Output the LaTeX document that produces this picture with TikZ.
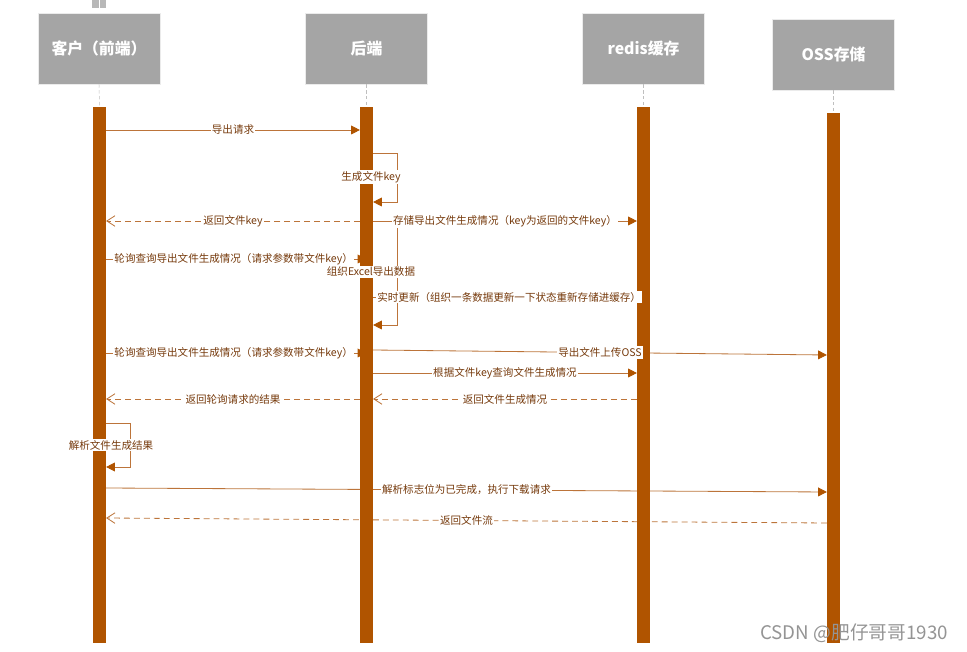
\documentclass[tikz,border=0pt]{standalone}
\usepackage{fontspec}
\usepackage{tikz}
\usetikzlibrary{positioning,arrows.meta,backgrounds}
\newfontfamily\cjk{Noto Sans CJK SC}
\definecolor{barbrown}{RGB}{176,84,0}
\definecolor{wirebrown}{RGB}{188,116,58}
\definecolor{labelbrown}{RGB}{118,58,12}
\definecolor{headgrey}{RGB}{165,165,165}

\begin{document}
\begin{tikzpicture}[x=0.03cm,y=-0.03cm,
  head/.style={rectangle,draw=black!8,fill=headgrey,minimum width=3.66cm,
    minimum height=2.13cm,text=white,font=\cjk\bfseries\fontsize{13.5}{16}\selectfont},
  actbar/.style={rectangle,fill=barbrown,minimum width=0.38cm,inner sep=0pt},
  lifeline/.style={draw=black!25,dash pattern=on 3pt off 2pt},
  msg/.style={wirebrown,line width=0.7pt,-{Triangle[length=7.5pt,width=7.5pt,color=barbrown]}},
  reply/.style={wirebrown,line width=0.7pt,dash pattern=on 5pt off 3.5pt,
    -{Straight Barb[length=7pt,width=9pt]}},
  wire/.style={wirebrown,line width=0.7pt},
  lbl/.style={fill=white,inner sep=1pt,text=labelbrown,font=\cjk\fontsize{9}{10}\selectfont}]
\useasboundingbox (0,0) rectangle (967,652);
% Participants
\fill[black!28] (92,0) rectangle (98.5,8);
\fill[black!28] (99.5,0) rectangle (106,8);
\node[head] (cli) at (99,48.5) {客户（前端）};
\node[head] (be) at (366.5,48.5) {后端};
\node[head] (rd) at (643.5,48.5) {redis缓存};
\node[head] (oss) at (833.5,54.5) {OSS存储};
% Activation bars
\node[actbar,minimum height=16.08cm] (clibar) at (99.5,375) {};
\node[actbar,minimum height=16.08cm] (bebar) at (366.5,375) {};
\node[actbar,minimum height=16.08cm] (rdbar) at (643.5,375) {};
\node[actbar,minimum height=15.9cm] (ossbar) at (833.5,378) {};
\draw[lifeline] (cli.south) -- (clibar.north);
\draw[lifeline] (be.south) -- (bebar.north);
\draw[lifeline] (rd.south) -- (rdbar.north);
\draw[lifeline] (oss.south) -- (ossbar.north);
% Messages passing behind the bars
\begin{scope}[on background layer]
\draw[msg] (bebar.east |- 0,350) -- (ossbar.west |- 0,355);
\draw[msg] (clibar.east |- 0,488) -- (ossbar.west |- 0,492)
  node[lbl,midway] (m14) {解析标志位为已完成，执行下载请求};
\draw[reply] (ossbar.west |- 0,523) -- (clibar.east |- 0,518)
  node[lbl,midway] (m15) {返回文件流};
\end{scope}
\path (bebar.east |- 0,350) -- (ossbar.west |- 0,355)
  node[lbl,midway] (m9) {导出文件上传OSS};
% Messages
\draw[msg] (clibar.east |- 0,130) -- (bebar.west |- 0,130)
  node[lbl,midway] (m1) {导出请求};
\draw[msg] (bebar.east |- 0,153) -- ++(24,0) |- (bebar.east |- 0,202);
\node[lbl] (m2) at (371,177) {生成文件key};
\draw[reply] (bebar.west |- 0,221) -- (clibar.east |- 0,221)
  node[lbl,midway] (m3) {返回文件key};
\draw[msg] (bebar.east |- 0,221) -- ++(24,0) |- (bebar.east |- 0,325);
\draw[msg] (bebar.east |- 0,221) -- (rdbar.west |- 0,221)
  node[lbl,midway] (m4) {存储导出文件生成情况（key为返回的文件key）};
\draw[msg] (clibar.east |- 0,259) -- (bebar.center |- 0,259)
  node[lbl,pos=0.49] (m5) {轮询查询导出文件生成情况（请求参数带文件key）};
\node[lbl] (m6) at (371,272) {组织Excel导出数据};
\node[lbl,anchor=west] (m7) at (376,297) {实时更新（组织一条数据更新一下状态重新存储进缓存）};
\draw[wire] (bebar.east |- m7) -- (m7.west);
\draw[msg] (clibar.east |- 0,353) -- (bebar.center |- 0,353)
  node[lbl,pos=0.49] (m8) {轮询查询导出文件生成情况（请求参数带文件key）};
\draw[msg] (bebar.east |- 0,373) -- (rdbar.west |- 0,373)
  node[lbl,midway] (m10) {根据文件key查询文件生成情况};
\draw[reply] (rdbar.west |- 0,399) -- (bebar.east |- 0,399)
  node[lbl,midway] (m11) {返回文件生成情况};
\draw[reply] (bebar.west |- 0,399) -- (clibar.east |- 0,399)
  node[lbl,midway] (m12) {返回轮询请求的结果};
\draw[msg] (clibar.east |- 0,423) -- ++(24,0) |- (clibar.east |- 0,467);
\node[lbl] (m13) at (111,445) {解析文件生成结果};
% Watermark
\node[anchor=east,text=black!42,font=\cjk\fontsize{16}{18}\selectfont] (mark)
  at (952,633) {CSDN @肥仔哥哥1930};
\end{tikzpicture}
\end{document}
